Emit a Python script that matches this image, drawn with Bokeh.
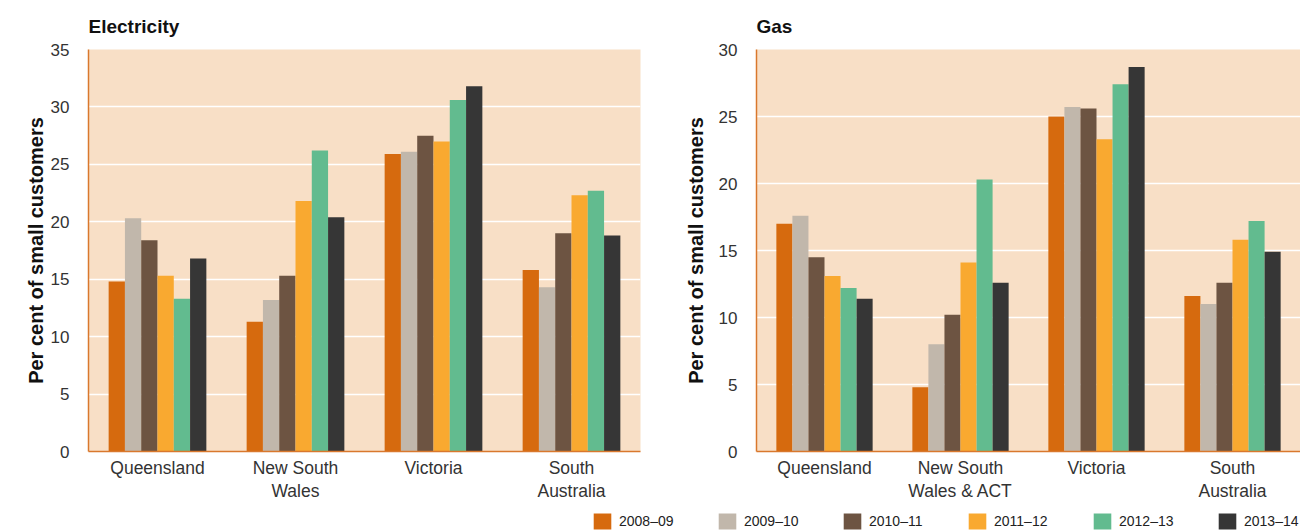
from bokeh.plotting import figure
from bokeh.layouts import column, row
from bokeh.models import ColumnDataSource, Range1d, Legend, LegendItem, FactorRange
from bokeh.transform import dodge
from bokeh.embed import file_html
from bokeh.resources import INLINE

years = ["2008–09", "2009–10", "2010–11", "2011–12", "2012–13", "2013–14"]
colors = ["#D66A0E", "#C1B7AB", "#6D5442", "#F9A930", "#62BB8F", "#363636"]

elec_regions = ["Queensland", "New South\nWales", "Victoria", "South\nAustralia"]
elec_2008_09 = [14.8, 11.3, 25.9, 15.8]
elec_2009_10 = [20.3, 13.2, 26.1, 14.3]
elec_2010_11 = [18.4, 15.3, 27.5, 19.0]
elec_2011_12 = [15.3, 21.8, 27.0, 22.3]
elec_2012_13 = [13.3, 26.2, 30.6, 22.7]
elec_2013_14 = [16.8, 20.4, 31.8, 18.8]

gas_regions = ["Queensland", "New South\nWales & ACT", "Victoria", "South\nAustralia"]
gas_2008_09 = [17.0, 4.8, 25.0, 11.6]
gas_2009_10 = [17.6, 8.0, 25.7, 11.0]
gas_2010_11 = [14.5, 10.2, 25.6, 12.6]
gas_2011_12 = [13.1, 14.1, 23.3, 15.8]
gas_2012_13 = [12.2, 20.3, 27.4, 17.2]
gas_2013_14 = [11.4, 12.6, 28.7, 14.9]

BG = "#F8DFC6"
AXIS = "#D9782D"
FONT = "Liberation Sans"
BAR_W = 0.118
offsets = [(i - 2.5) * BAR_W for i in range(6)]


def make_panel(title, regions, series, ymax, width, border_left, border_right, label_standoff):
    src = ColumnDataSource(dict(cat=regions, **{y: v for y, v in zip(years, series)}))
    p = figure(x_range=FactorRange(*regions), y_range=Range1d(0, ymax),
               width=width, height=511, output_backend="svg", toolbar_location=None,
               min_border_left=border_left, min_border_right=border_right,
               min_border_top=49, min_border_bottom=60)
    p.background_fill_color = BG
    p.outline_line_color = None
    p.border_fill_color = "white"
    for y, off, c in zip(years, offsets, colors):
        p.vbar(x=dodge("cat", off, range=p.x_range), top=y, width=BAR_W,
               source=src, color=c, line_color=None)
    p.title.text = title
    p.title.text_font = FONT
    p.title.text_font_size = "19px"
    p.title.text_font_style = "bold"
    p.title.text_color = "#111111"
    p.title.align = "left"
    p.title.standoff = 25
    p.xgrid.grid_line_color = None
    p.ygrid.grid_line_color = "white"
    p.ygrid.grid_line_width = 1.5
    p.yaxis.ticker = list(range(0, ymax + 1, 5))
    p.yaxis.axis_label = "Per cent of small customers"
    p.yaxis.axis_label_text_font = FONT
    p.yaxis.axis_label_text_font_size = "20px"
    p.yaxis.axis_label_text_font_style = "bold"
    p.yaxis.axis_label_text_color = "#111111"
    p.yaxis.axis_label_standoff = label_standoff
    for ax in (p.xaxis[0], p.yaxis[0]):
        ax.axis_line_color = AXIS
        ax.axis_line_width = 1.5
        ax.major_tick_line_color = None
        ax.minor_tick_line_color = None
        ax.major_label_text_font = FONT
        ax.major_label_text_color = "#333333"
    p.yaxis.major_label_text_font_size = "17px"
    p.yaxis.major_label_standoff = 13
    p.xaxis.major_label_text_font_size = "17.5px"
    p.xaxis.major_label_text_line_height = 1.15
    p.xaxis.major_label_standoff = 0
    p.x_range.range_padding = 0
    return p


p1 = make_panel("Electricity", elec_regions,
                [elec_2008_09, elec_2009_10, elec_2010_11, elec_2011_12, elec_2012_13, elec_2013_14],
                35, 660, 88, 20, 1)
p2 = make_panel("Gas", gas_regions,
                [gas_2008_09, gas_2009_10, gas_2010_11, gas_2011_12, gas_2012_13, gas_2013_14],
                30, 640, 96, 0, 9)

# legend strip
pl = figure(width=1300, height=20, x_range=Range1d(0, 1), y_range=Range1d(0, 1),
            output_backend="svg", toolbar_location=None, min_border=0)
pl.outline_line_color = None
pl.axis.visible = False
pl.grid.visible = False
items = []
for y, c in zip(years, colors):
    r = pl.vbar(x=[5], top=[1], width=0.1, color=c, line_color=None)
    items.append(LegendItem(label=y, renderers=[r]))
leg = Legend(items=items, orientation="horizontal", location=(591, 0),
             glyph_width=22, glyph_height=20, label_standoff=6, label_width=56,
             spacing=41, padding=0, margin=0, border_line_color=None,
             background_fill_alpha=0, label_text_font=FONT, label_text_font_size="14px",
             label_text_color="#222222")
pl.add_layout(leg, "center")

layout = column(row(p1, p2, spacing=0), pl, spacing=0)
open("out.html", "w").write(file_html(layout, INLINE))
